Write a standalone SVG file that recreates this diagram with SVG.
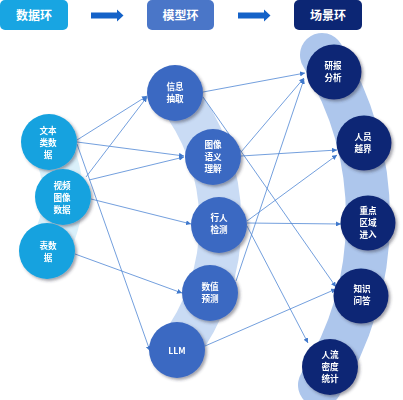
<svg xmlns="http://www.w3.org/2000/svg" width="403" height="400" viewBox="0 0 403 400">
<defs>
<style>
.hdr{font-family:"Noto Sans CJK SC","Liberation Sans",sans-serif;font-size:12px;font-weight:bold;fill:#fff;text-anchor:middle}
.lbl{font-family:"Noto Sans CJK SC","Liberation Sans",sans-serif;font-size:8.6px;font-weight:bold;fill:#fff;text-anchor:middle}
.d{fill:#14a2df}
.m{fill:#3b69c2}
.s{fill:#0c2674}
.band{fill:none;stroke-linecap:round}
.c{stroke:#4f86d4;stroke-width:0.8;fill:none;marker-end:url(#ah)}
</style>
<marker id="ah" viewBox="0 0 10 10" refX="10" refY="5" markerWidth="5" markerHeight="5" markerUnits="userSpaceOnUse" orient="auto">
<path d="M0,0 L10,5 L0,10 z" fill="#3f78cc"/>
</marker>
<filter id="sh" x="-30%" y="-30%" width="170%" height="170%">
<feDropShadow dx="2" dy="2" stdDeviation="1.8" flood-color="#334" flood-opacity="0.45"/>
</filter>
</defs>
<rect width="403" height="400" fill="#ffffff"/>

<g id="headers">
<rect x="0" y="0" width="68" height="30" rx="5" fill="#18a5e2"/>
<text class="hdr" x="34" y="20">数据环</text>
<rect x="147" y="0" width="67" height="30" rx="5" fill="#4a76c8"/>
<text class="hdr" x="180.5" y="20">模型环</text>
<rect x="294" y="0" width="68" height="30" rx="5" fill="#0c2674"/>
<text class="hdr" x="328" y="20">场景环</text>
<path d="M91,12.5 H117 V9.5 L123.5,15.5 L117,21.5 V18.5 H91 z" fill="#1462c8"/>
<path d="M238,12.5 H264 V9.5 L270.5,15.5 L264,21.5 V18.5 H238 z" fill="#1462c8"/>
</g>

<g id="bands">
<path class="band" d="M49,142 A108,108 0 0 1 47,251" stroke="#daf0fa" stroke-width="40"/>
<path class="band" d="M175,93 A208,208 0 0 1 177,350" stroke="#c9dbf4" stroke-width="42"/>
<path class="band" d="M322,55 A313,313 0 0 1 320,385" stroke="#adc6ec" stroke-width="44"/>
</g>

<g id="connectors">
<line class="c" x1="77" y1="140" x2="147" y2="96"/>
<line class="c" x1="77" y1="142" x2="184" y2="156"/>
<line class="c" x1="77" y1="144" x2="150" y2="351"/>
<line class="c" x1="86" y1="177" x2="147" y2="97"/>
<line class="c" x1="89" y1="180" x2="184" y2="157"/>
<line class="c" x1="91" y1="199" x2="191" y2="224"/>
<line class="c" x1="75" y1="254" x2="182" y2="293"/>
<line class="c" x1="203" y1="92" x2="305" y2="73"/>
<line class="c" x1="203" y1="97" x2="336" y2="287"/>
<line class="c" x1="241" y1="152" x2="304" y2="78"/>
<line class="c" x1="241" y1="156" x2="337" y2="150"/>
<line class="c" x1="247" y1="221" x2="337" y2="155"/>
<line class="c" x1="247" y1="223" x2="341" y2="224"/>
<line class="c" x1="247" y1="226" x2="308" y2="343"/>
<line class="c" x1="236" y1="281" x2="304" y2="79"/>
<line class="c" x1="205" y1="346" x2="336" y2="289"/>
</g>

<g id="d1" filter="url(#sh)"><circle class="d" cx="49" cy="142" r="28"/>
<text class="lbl" x="48" y="134">文本</text><text class="lbl" x="48" y="146">类数</text><text class="lbl" x="48" y="158">据</text></g>
<g id="d2" filter="url(#sh)"><circle class="d" cx="63" cy="197" r="28"/>
<text class="lbl" x="62" y="189">视频</text><text class="lbl" x="62" y="201">图像</text><text class="lbl" x="62" y="213">数据</text></g>
<g id="d3" filter="url(#sh)"><circle class="d" cx="47" cy="251" r="28"/>
<text class="lbl" x="48" y="249">表数</text><text class="lbl" x="48" y="261">据</text></g>

<g id="m1" filter="url(#sh)"><circle class="m" cx="175" cy="93" r="28"/>
<text class="lbl" x="175" y="90">信息</text><text class="lbl" x="175" y="102">抽取</text></g>
<g id="m2" filter="url(#sh)"><circle class="m" cx="213" cy="157" r="28"/>
<text class="lbl" x="213" y="148">图像</text><text class="lbl" x="213" y="160">语义</text><text class="lbl" x="213" y="172">理解</text></g>
<g id="m3" filter="url(#sh)"><circle class="m" cx="219" cy="225" r="28"/>
<text class="lbl" x="219" y="221">行人</text><text class="lbl" x="219" y="233">检测</text></g>
<g id="m4" filter="url(#sh)"><circle class="m" cx="210" cy="293" r="28"/>
<text class="lbl" x="210" y="290">数值</text><text class="lbl" x="210" y="302">预测</text></g>
<g id="m5" filter="url(#sh)"><circle class="m" cx="177" cy="350" r="28"/>
<text class="lbl" x="177" y="354">LLM</text></g>

<g id="s1" filter="url(#sh)"><circle class="s" cx="334" cy="72" r="27.5"/>
<text class="lbl" x="333" y="69">研报</text><text class="lbl" x="333" y="81">分析</text></g>
<g id="s2" filter="url(#sh)"><circle class="s" cx="364" cy="143" r="27.5"/>
<text class="lbl" x="363" y="140">人员</text><text class="lbl" x="363" y="152">越界</text></g>
<g id="s3" filter="url(#sh)"><circle class="s" cx="368" cy="223" r="27.5"/>
<text class="lbl" x="368" y="214">重点</text><text class="lbl" x="368" y="226">区域</text><text class="lbl" x="368" y="238">进入</text></g>
<g id="s4" filter="url(#sh)"><circle class="s" cx="361" cy="296" r="27.5"/>
<text class="lbl" x="362" y="292">知识</text><text class="lbl" x="362" y="304">问答</text></g>
<g id="s5" filter="url(#sh)"><circle class="s" cx="330" cy="367" r="28"/>
<text class="lbl" x="330" y="358">人流</text><text class="lbl" x="330" y="370">密度</text><text class="lbl" x="330" y="382">统计</text></g>
</svg>
